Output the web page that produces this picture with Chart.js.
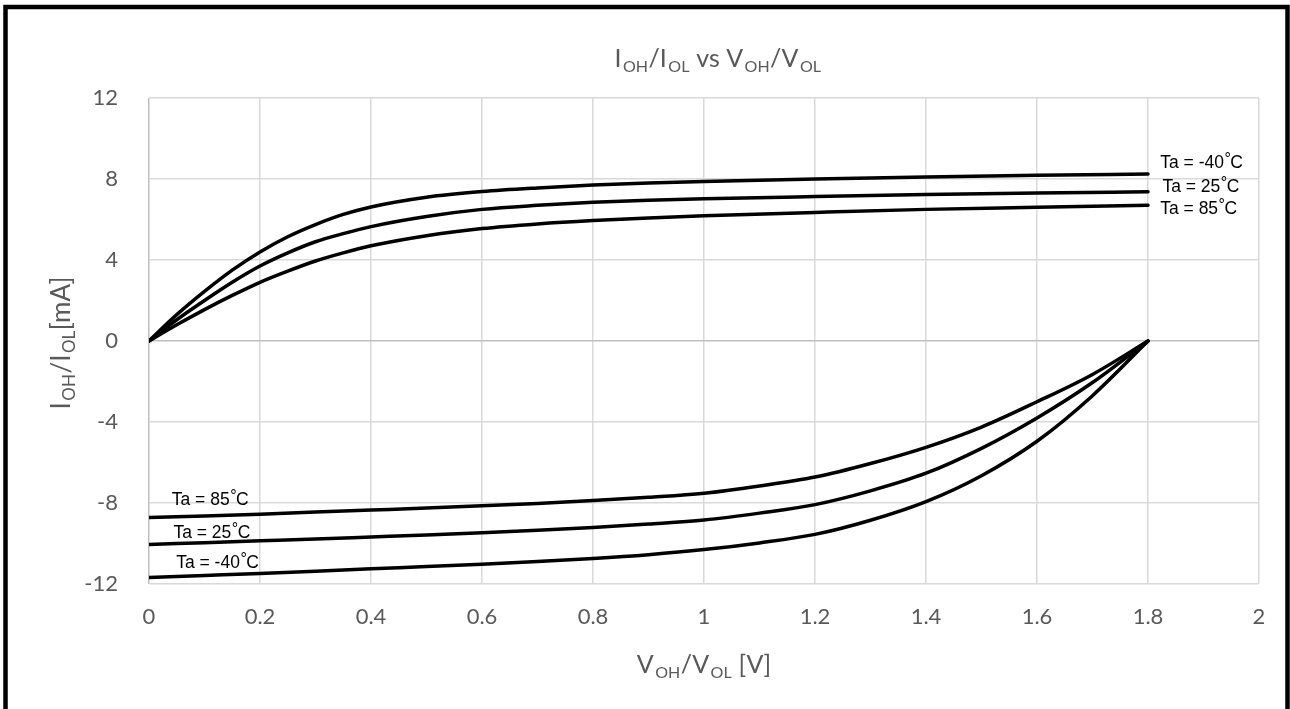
<!DOCTYPE html>
<html>
<head>
<meta charset="utf-8">
<script src="https://cdn.jsdelivr.net/npm/chart.js@4.4.1/dist/chart.umd.min.js"></script>
<style>
  html, body { margin: 0; padding: 0; background: #fff; }
  #wrap { width: 1290px; height: 709px; }
</style>
</head>
<body>
<div id="wrap"><canvas id="ivChart" width="1290" height="709"></canvas></div>
<script>
// --- DATA ---
// output high current (source), V_OH from 0 to 1.8 V
const xHigh = [0, 0.05, 0.1, 0.15, 0.2, 0.25, 0.3, 0.35, 0.4, 0.5, 0.6, 0.7, 0.8, 0.9, 1.0, 1.2, 1.4, 1.6, 1.8];
const iohM40 = [0, 1.3, 2.45, 3.5, 4.4, 5.15, 5.75, 6.25, 6.62, 7.1, 7.38, 7.56, 7.7, 7.8, 7.88, 8.0, 8.1, 8.18, 8.25];
const ioh25  = [0, 1.05, 2.0, 2.9, 3.7, 4.35, 4.9, 5.3, 5.65, 6.15, 6.5, 6.7, 6.85, 6.95, 7.02, 7.13, 7.23, 7.31, 7.37];
const ioh85  = [0, 0.8, 1.55, 2.25, 2.9, 3.45, 3.95, 4.35, 4.7, 5.2, 5.55, 5.78, 5.95, 6.08, 6.18, 6.35, 6.5, 6.6, 6.7];

// output low current (sink), V_OL from 0 to 1.8 V
const xLow = [0, 0.1, 0.2, 0.3, 0.4, 0.5, 0.6, 0.7, 0.8, 0.9, 1.0, 1.1, 1.2, 1.3, 1.4, 1.5, 1.6, 1.7, 1.8];
const iolM40 = [-11.68, -11.58, -11.48, -11.37, -11.25, -11.14, -11.02, -10.89, -10.74, -10.55, -10.3, -9.97, -9.55, -8.85, -7.93, -6.65, -4.95, -2.7, 0];
const iol25  = [-10.05, -9.96, -9.87, -9.78, -9.68, -9.58, -9.47, -9.35, -9.21, -9.04, -8.84, -8.5, -8.08, -7.4, -6.53, -5.3, -3.8, -2.05, 0];
const iol85  = [-8.72, -8.64, -8.55, -8.45, -8.35, -8.25, -8.14, -8.02, -7.88, -7.72, -7.52, -7.16, -6.72, -6.05, -5.25, -4.25, -3.0, -1.65, 0];

const xTicks = [0, 0.2, 0.4, 0.6, 0.8, 1, 1.2, 1.4, 1.6, 1.8, 2];
const yTicks = [-12, -8, -4, 0, 4, 8, 12];

// temperature tags next to the curves (data coordinates)
const tempTags = ['-40', '25', '85', '85', '25', '-40'];
const tagX = [1.822, 1.826, 1.822, 0.041, 0.044, 0.049];
const tagY = [8.54, 7.36, 6.27, -8.10, -9.73, -11.21];

const titleParts = [['I'], ['OH', 1], ['/I'], ['OL', 1], [' vs V'], ['OH', 1], ['/V'], ['OL', 1]];
const xTitleParts = [['V'], ['OH', 1], ['/V'], ['OL', 1], [' [V]']];
const yTitleParts = [['I'], ['OH', 1], ['/I'], ['OL', 1], ['[mA]']];

// --- HELPERS ---
const toPoints = (xs, ys) => xs.map((x, i) => ({ x: x, y: ys[i] }));

const curve = (xs, ys) => ({
    data: toPoints(xs, ys),
    showLine: true,
    borderColor: '#000',
    borderWidth: 3.5,
    borderCapStyle: 'round',
    borderJoinStyle: 'round',
    pointRadius: 0,
    cubicInterpolationMode: 'monotone'
});

// text with subscripts, centred on 0,0 (baseline)
const drawRich = (ctx, parts, size) => {
    const mainFont = `${size}px Lato`;
    const subFont = `${Math.round(size * 0.65)}px Lato`;
    const widths = parts.map(p => {
        ctx.font = p[1] ? subFont : mainFont;
        return ctx.measureText(p[0]).width + (p[1] ? 2 : 0);
    });
    const total = widths.reduce((a, b) => a + b, 0);
    let x = -total / 2;
    ctx.textAlign = 'left';
    ctx.textBaseline = 'alphabetic';
    parts.forEach((p, i) => {
        ctx.font = p[1] ? subFont : mainFont;
        ctx.fillText(p[0], x + (p[1] ? 1.5 : 0), p[1] ? size * 0.2 : 0);
        x += widths[i];
    });
};

const drawTag = (ctx, temp, x, y) => {
    ctx.textAlign = 'left';
    ctx.textBaseline = 'alphabetic';
    ctx.font = '17.5px "Liberation Sans", Arial, sans-serif';
    const head = `Ta = ${temp}`;
    ctx.fillText(head, x, y);
    let cx = x + ctx.measureText(head).width + 0.5;
    ctx.font = '16px "Liberation Sans", Arial, sans-serif';
    ctx.fillText('°', cx, y - 4);
    cx += ctx.measureText('°').width - 0.5;
    ctx.font = '17.5px "Liberation Sans", Arial, sans-serif';
    ctx.fillText('C', cx, y);
};

const decorPlugin = {
    id: 'decor',
    beforeDraw: (chart) => {
        const ctx = chart.ctx;
        ctx.save();
        ctx.fillStyle = '#fff';
        ctx.fillRect(0, 0, chart.width, chart.height);
        ctx.restore();
    },
    afterDraw: (chart) => {
        const ctx = chart.ctx;
        const xs = chart.scales.x;
        const ys = chart.scales.y;
        ctx.save();
        ctx.fillStyle = '#595959';

        ctx.save();
        ctx.translate(718, 67);
        drawRich(ctx, titleParts, 25);
        ctx.restore();

        ctx.save();
        ctx.translate(704, 673);
        drawRich(ctx, xTitleParts, 25);
        ctx.restore();

        ctx.save();
        ctx.translate(70, 343);
        ctx.rotate(-Math.PI / 2);
        drawRich(ctx, yTitleParts, 26);
        ctx.restore();

        ctx.fillStyle = '#000';
        tempTags.forEach((t, i) => {
            drawTag(ctx, t, xs.getPixelForValue(tagX[i]), ys.getPixelForValue(tagY[i]));
        });

        // outer frame
        ctx.strokeStyle = '#000';
        ctx.lineWidth = 4.5;
        ctx.strokeRect(5.5, 7, 1282, 720);
        ctx.restore();
    }
};

// --- CHART ---
const gridColor = (c) => (c.tick && c.tick.value === 0 ? '#bfbfbf' : '#d9d9d9');

Chart.defaults.font.family = 'Lato, "Open Sans", sans-serif';

new Chart(document.getElementById('ivChart'), {
    type: 'scatter',
    data: {
        datasets: [
            curve(xHigh, iohM40),
            curve(xHigh, ioh25),
            curve(xHigh, ioh85),
            curve(xLow, iolM40),
            curve(xLow, iol25),
            curve(xLow, iol85)
        ]
    },
    options: {
        responsive: false,
        animation: false,
        devicePixelRatio: 1,
        layout: { padding: { left: 0, top: 98, right: 31, bottom: 0 } },
        plugins: {
            legend: { display: false },
            tooltip: { enabled: false },
            title: { display: false }
        },
        scales: {
            x: {
                type: 'linear',
                min: 0,
                max: 2,
                afterBuildTicks: (axis) => { axis.ticks = xTicks.map(v => ({ value: v })); },
                afterFit: (axis) => { axis.height = 125; },
                border: { display: false },
                grid: { color: gridColor, lineWidth: 1.5, drawTicks: false },
                ticks: {
                    color: '#595959',
                    font: { size: 22 },
                    padding: 20,
                    maxRotation: 0,
                    callback: (v) => String(Number(v.toFixed(1)))
                }
            },
            y: {
                type: 'linear',
                min: -12,
                max: 12,
                afterBuildTicks: (axis) => { axis.ticks = yTicks.map(v => ({ value: v })); },
                afterFit: (axis) => { axis.width = 149; },
                border: { display: false },
                grid: { color: gridColor, lineWidth: 1.5, drawTicks: false },
                ticks: {
                    color: '#595959',
                    font: { size: 22 },
                    padding: 31,
                    callback: (v) => String(v)
                }
            }
        }
    },
    plugins: [decorPlugin]
});
</script>
</body>
</html>
